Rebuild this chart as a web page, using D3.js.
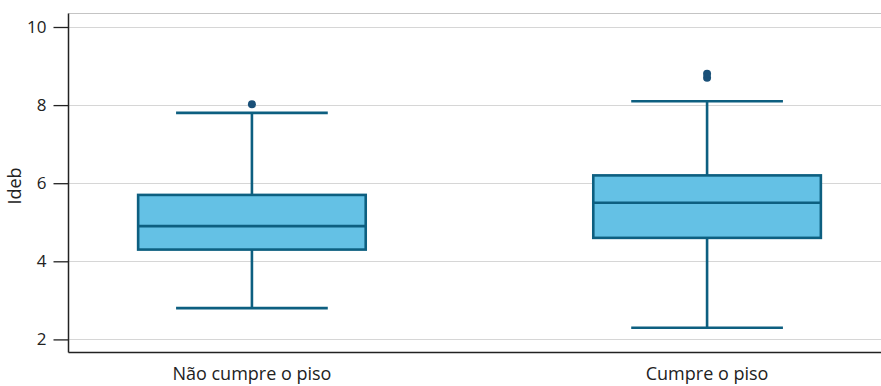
<!DOCTYPE html>
<html>
<head>
<meta charset="utf-8">
<script src="https://cdn.jsdelivr.net/npm/d3@7"></script>
<style>
  html, body { margin: 0; padding: 0; background: #fff; }
  svg { display: block; }
  text { font-family: "Open Sans", "Noto Sans", sans-serif; fill: #222; }
</style>
</head>
<body>
<svg id="chart" width="881" height="386"></svg>
<script>
const categories = ["Não cumpre o piso", "Cumpre o piso"];
const whiskerLow  = [2.8, 2.3];
const q1          = [4.3, 4.6];
const median      = [4.9, 5.5];
const q3          = [5.7, 6.2];
const whiskerHigh = [7.8, 8.1];
const outliers    = [[8.02], [8.7, 8.8]];
const yTicks      = [2, 4, 6, 8, 10];
const yLabel      = "Ideb";

(function () {
const svg = d3.select("#chart");
const plotLeft = 68.5, plotBottom = 352.5, plotTop = 13.5;

const y = d3.scaleLinear().domain([2, 10]).range([339.4, 27]);
const x = d3.scalePoint().domain(categories).range([plotLeft, 890.5]).padding(0.403);
const step = x.step();
const boxW = step * 0.5;
const capW = step / 3;

svg.append("line").attr("x1", plotLeft).attr("x2", 881).attr("y1", plotTop).attr("y2", plotTop)
  .attr("stroke", "#c4c4c4").attr("stroke-width", 1);

svg.append("g").selectAll("line").data(yTicks).join("line")
  .attr("x1", plotLeft).attr("x2", 881)
  .attr("y1", d => Math.round(y(d)) + 0.5).attr("y2", d => Math.round(y(d)) + 0.5)
  .attr("stroke", "#d6d6d6").attr("stroke-width", 1);

const yAxis = svg.append("g").attr("transform", `translate(${plotLeft},0)`)
  .call(d3.axisLeft(y).tickValues(yTicks).tickSize(15).tickPadding(7).tickFormat(d3.format("d")));
yAxis.select(".domain").remove();
yAxis.selectAll(".tick line").attr("stroke", "#222").attr("stroke-width", 1.3);
yAxis.selectAll(".tick text").attr("font-size", 17).attr("fill", "#222")
  .style("font-family", '"Open Sans", sans-serif');

svg.append("line").attr("x1", plotLeft).attr("x2", plotLeft).attr("y1", plotTop).attr("y2", plotBottom)
  .attr("stroke", "#222").attr("stroke-width", 1.5);
svg.append("line").attr("x1", plotLeft).attr("x2", 881).attr("y1", plotBottom).attr("y2", plotBottom)
  .attr("stroke", "#222").attr("stroke-width", 1.5);

svg.append("text").attr("transform", "translate(21,186) rotate(-90)")
  .attr("text-anchor", "middle").attr("font-size", 18).text(yLabel);

svg.append("g").selectAll("text").data(categories).join("text")
  .attr("x", d => x(d)).attr("y", 380).attr("text-anchor", "middle")
  .attr("font-size", 18).text(d => d);

const stroke = "#0d5f80", fill = "#64c1e5", sw = 2.6;
const boxes = svg.append("g").selectAll("g").data(categories).join("g");

boxes.append("line").attr("x1", d => x(d)).attr("x2", d => x(d))
  .attr("y1", (d, i) => y(whiskerLow[i])).attr("y2", (d, i) => y(q1[i]))
  .attr("stroke", stroke).attr("stroke-width", sw);
boxes.append("line").attr("x1", d => x(d)).attr("x2", d => x(d))
  .attr("y1", (d, i) => y(q3[i])).attr("y2", (d, i) => y(whiskerHigh[i]))
  .attr("stroke", stroke).attr("stroke-width", sw);
boxes.append("line").attr("x1", d => x(d) - capW / 2).attr("x2", d => x(d) + capW / 2)
  .attr("y1", (d, i) => y(whiskerLow[i])).attr("y2", (d, i) => y(whiskerLow[i]))
  .attr("stroke", stroke).attr("stroke-width", sw);
boxes.append("line").attr("x1", d => x(d) - capW / 2).attr("x2", d => x(d) + capW / 2)
  .attr("y1", (d, i) => y(whiskerHigh[i])).attr("y2", (d, i) => y(whiskerHigh[i]))
  .attr("stroke", stroke).attr("stroke-width", sw);
boxes.append("rect").attr("x", d => x(d) - boxW / 2).attr("width", boxW)
  .attr("y", (d, i) => y(q3[i])).attr("height", (d, i) => y(q1[i]) - y(q3[i]))
  .attr("fill", fill).attr("stroke", stroke).attr("stroke-width", sw);
boxes.append("line").attr("x1", d => x(d) - boxW / 2).attr("x2", d => x(d) + boxW / 2)
  .attr("y1", (d, i) => y(median[i])).attr("y2", (d, i) => y(median[i]))
  .attr("stroke", stroke).attr("stroke-width", sw);
boxes.each(function (d, i) {
  d3.select(this).selectAll("circle").data(outliers[i]).join("circle")
    .attr("cx", x(d)).attr("cy", v => y(v)).attr("r", 4)
    .attr("fill", "#1a5078");
});
})();
</script>
</body>
</html>
